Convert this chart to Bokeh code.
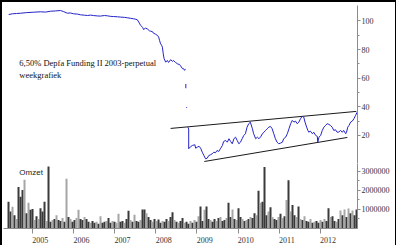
import math
from bokeh.plotting import figure
from bokeh.layouts import column
from bokeh.models import (ColumnDataSource, LinearAxis, FixedTicker, Range1d, Label,
                          Arrow, PrintfTickFormatter, CustomJSTickFormatter)
from bokeh.embed import file_html
from bokeh.resources import INLINE

# ---------------- data ----------------
title_line1 = "6,50% Depfa Funding II 2003-perpetual"
title_line2 = "weekgrafiek"
volume_label = "Omzet"

years = [2005, 2006, 2007, 2008, 2009, 2010, 2011, 2012]

price_ticks = [20, 40, 60, 80, 100]
volume_ticks = [1000000, 2000000, 3000000]

# price, segment before the break (2004-2008)
seg_a_t = [2004.42, 2004.51, 2004.61, 2004.71, 2004.85, 2005.02, 2005.19, 2005.32, 2005.44,
           2005.56, 2005.68, 2005.75, 2005.85, 2005.92, 2006.00, 2006.09, 2006.17, 2006.27,
           2006.34, 2006.41, 2006.48, 2006.58, 2006.65, 2006.75, 2006.82, 2006.90, 2006.97,
           2007.07, 2007.14, 2007.24, 2007.31, 2007.38, 2007.46, 2007.51, 2007.55, 2007.60,
           2007.63, 2007.68, 2007.70, 2007.75, 2007.80, 2007.85, 2007.87, 2007.92, 2007.94,
           2007.99, 2008.04, 2008.07, 2008.09, 2008.11, 2008.14, 2008.16, 2008.18, 2008.20,
           2008.24, 2008.28, 2008.31, 2008.36, 2008.41, 2008.43, 2008.48, 2008.53, 2008.58,
           2008.60, 2008.65, 2008.67, 2008.70, 2008.72]
seg_a_v = [104.5, 105.0, 105.2, 105.4, 105.8, 106.1, 106.4, 106.2, 106.8,
           107.0, 107.3, 106.6, 105.4, 105.6, 105.0, 104.8, 104.3, 104.0,
           103.8, 104.1, 103.8, 103.5, 103.4, 103.8, 103.6, 103.2, 103.1,
           102.9, 102.7, 102.5, 102.2, 101.9, 101.5, 101.2, 100.8, 98.5,
           96.9, 95.5, 94.0, 95.0, 94.3, 93.0, 92.9, 92.5, 91.5,
           90.8, 89.9, 88.7, 86.5, 84.5, 83.0, 81.7, 77.3, 73.8,
           71.2, 72.4, 71.0, 72.9, 71.7, 72.4, 71.0, 70.0, 69.5,
           68.7, 66.6, 66.8, 65.5, 66.5]
seg_b_t = [2008.73, 2008.73]
seg_b_v = [56.0, 53.0]
seg_c_t = [2008.75, 2008.75]
seg_c_v = [39.8, 39.2]
seg_d_t = [2008.78, 2008.80, 2008.80, 2008.84, 2008.89, 2008.95, 2008.97, 2009.01, 2009.05,
           2009.09, 2009.13, 2009.17, 2009.21, 2009.25, 2009.29, 2009.33, 2009.37, 2009.41,
           2009.45, 2009.49, 2009.53, 2009.57, 2009.62, 2009.65, 2009.70, 2009.74, 2009.78,
           2009.82, 2009.86, 2009.90, 2009.94, 2009.98, 2010.02, 2010.06, 2010.10, 2010.14,
           2010.18, 2010.22, 2010.26, 2010.30, 2010.35, 2010.38, 2010.43, 2010.47, 2010.51,
           2010.55, 2010.59, 2010.63, 2010.67, 2010.71, 2010.75, 2010.79, 2010.83, 2010.87,
           2010.91, 2010.95, 2010.99, 2011.03, 2011.08, 2011.11, 2011.16, 2011.20, 2011.24,
           2011.28, 2011.32, 2011.36, 2011.40, 2011.44, 2011.48, 2011.52, 2011.56, 2011.60,
           2011.63, 2011.67, 2011.70, 2011.72, 2011.76, 2011.81, 2011.84, 2011.89, 2011.93,
           2011.94, 2011.97, 2012.01, 2012.05, 2012.09, 2012.13, 2012.17, 2012.21, 2012.25,
           2012.29, 2012.33, 2012.37, 2012.41, 2012.45, 2012.49, 2012.54, 2012.57, 2012.62,
           2012.64, 2012.67, 2012.70, 2012.74, 2012.78, 2012.82, 2012.86, 2012.90]
seg_d_v = [25.8, 24.5, 10.7, 12.0, 13.0, 13.5, 11.1, 11.8, 12.5,
           11.1, 8.3, 6.0, 3.7, 4.1, 6.0, 6.5, 7.2, 8.3,
           7.9, 9.5, 8.8, 10.7, 13.0, 15.8, 16.5, 15.3, 17.7,
           15.8, 14.2, 17.7, 18.8, 16.5, 14.2, 15.3, 17.7, 20.0,
           21.2, 25.8, 28.2, 29.3, 24.7, 21.2, 17.7, 18.8, 17.7,
           19.0, 21.0, 22.3, 23.5, 24.7, 25.8, 26.3, 24.7, 21.2,
           17.7, 15.3, 14.2, 14.6, 15.3, 17.7, 18.8, 21.2, 24.7,
           28.2, 30.5, 29.3, 30.0, 28.2, 29.3, 31.7, 33.3, 32.8,
           29.3, 25.8, 23.5, 22.3, 23.0, 21.2, 22.3, 20.0, 19.3,
           15.3, 18.8, 20.0, 23.5, 25.8, 27.0, 28.2, 27.7, 27.0,
           25.8, 23.5, 24.0, 22.3, 22.3, 23.5, 22.3, 23.5, 21.2,
           22.3, 25.8, 27.0, 29.3, 30.0, 31.7, 34.0, 36.3]

trend_upper_t = [2008.36, 2012.88]
trend_upper_v = [24.9, 36.8]
trend_lower_t = [2009.18, 2012.66]
trend_lower_v = [1.8, 18.6]

# volume (thousands), one bar every ~2.5 weeks starting mid 2004
VOL_START = 2004.416
VOL_STEP = 0.04866
volume_k = [1410, 900, 1140, 700, 500, 2190, 1670, 2020, 2570, 800,
            1350, 980, 1020, 450, 640, 500, 1070, 900, 1410, 400,
            3260, 350, 450, 500, 700, 450, 400, 550, 350, 2620,
            600, 500, 350, 450, 550, 980, 500, 450, 600, 500,
            350, 300, 400, 300, 350, 250, 640, 300, 350, 400,
            550, 300, 400, 350, 300, 770, 350, 400, 300, 500,
            930, 450, 350, 720, 400, 350, 450, 1000, 1000, 800,
            600, 450, 350, 500, 400, 470, 300, 400, 350, 500,
            400, 600, 860, 450, 350, 300, 400, 550, 300, 350,
            250, 400, 300, 450, 350, 640, 1160, 400, 980, 1160,
            500, 450, 350, 500, 400, 550, 600, 400, 450, 550,
            1360, 600, 1000, 500, 450, 1070, 600, 500, 400, 450,
            500, 600, 550, 800, 700, 1980, 1360, 1410, 3230, 700,
            900, 1120, 600, 500, 450, 600, 770, 550, 650, 1500,
            2540, 900, 1240, 700, 600, 1160, 500, 450, 640, 400,
            350, 500, 300, 350, 400, 300, 450, 350, 500, 400,
            1070, 600, 650, 400, 350, 500, 950, 700, 1000, 600,
            1050, 800, 950, 700, 1000]
# week direction: l = up week (light bar), d = down week (dark bar)
volume_dir = ("ddldldddld" "lddldldddl" "ddldlddldl" "dlddllddld" "dlddldlddl"
              "ddldllddld" "dldlddlddl" "ddldlddldd" "lddldlddld" "dldldlddld"
              "dlddldlddl" "ddldlddldl" "dlddldlddd" "ldlddldldl" "dlddldldld"
              "dldlddldld" "dlddldldld" "ldldd")

# ---------------- build ----------------
NAN = float("nan")
price_t = seg_a_t + [NAN] + seg_b_t + [NAN] + seg_c_t + [NAN] + seg_d_t
price_v = seg_a_v + [NAN] + seg_b_v + [NAN] + seg_c_v + [NAN] + seg_d_v

vol_x = [VOL_START + i * VOL_STEP for i in range(len(volume_k))]
vol_top = [v * 1000 for v in volume_k]
vol_col = ["#a6a6a6" if volume_dir[i] == "l" else "#3a3a3a" for i in range(len(volume_k))]
vsrc = ColumnDataSource(dict(x=vol_x, top=vol_top, color=vol_col))

SERIF = "Liberation Serif"
AX_COL = "#8c8c8c"
LBL_COL = "#333333"

xr = Range1d(2004.294, 2012.907)

p1 = figure(width=393, height=161, x_range=xr, y_range=Range1d(0.4, 110.8),
            output_backend="svg", toolbar_location=None,
            x_axis_location=None, y_axis_location=None,
            min_border_left=1, min_border_right=38, min_border_top=3, min_border_bottom=0)
p1.outline_line_color = None
p1.grid.visible = False

ay1 = LinearAxis(ticker=FixedTicker(ticks=price_ticks, minor_ticks=[30, 50, 70, 90]))
for ax in (ay1,):
    ax.axis_line_color = AX_COL
    ax.major_tick_line_color = AX_COL
    ax.minor_tick_line_color = AX_COL
    ax.major_tick_out = 3
    ax.major_tick_in = 0
    ax.minor_tick_out = 2
    ax.minor_tick_in = 0
    ax.major_label_standoff = 1
    ax.major_label_text_font = SERIF
    ax.major_label_text_font_size = "8px"
    ax.major_label_text_color = LBL_COL
p1.add_layout(ay1, "right")

p1.line(trend_upper_t, trend_upper_v, line_color="#1a1a1a", line_width=1)
p1.line(trend_lower_t, trend_lower_v, line_color="#1a1a1a", line_width=1)
p1.line(price_t, price_v, line_color="#2323c8", line_width=1)

p1.add_layout(Label(x=2004.68, y=70.3, text=title_line1, text_font=SERIF,
                    text_font_size="8.5px", text_baseline="middle", text_color="#111111"))
p1.add_layout(Label(x=2004.68, y=61.9, text=title_line2, text_font=SERIF,
                    text_font_size="8.5px", text_baseline="middle", text_color="#111111"))

p2 = figure(width=393, height=82, x_range=xr, y_range=Range1d(0, 3420000),
            output_backend="svg", toolbar_location=None,
            x_axis_location=None, y_axis_location=None,
            min_border_left=1, min_border_right=38, min_border_top=0, min_border_bottom=16)
p2.outline_line_color = None
p2.grid.visible = False

p2.vbar(x="x", top="top", width=VOL_STEP, fill_color="color", line_color=None, source=vsrc)

ay2 = LinearAxis(ticker=FixedTicker(ticks=volume_ticks, minor_ticks=[500000, 1500000, 2500000]),
                 formatter=PrintfTickFormatter(format="%d"))
ax_b = LinearAxis(ticker=FixedTicker(ticks=[y + 0.19 for y in years], minor_ticks=years),
                  formatter=CustomJSTickFormatter(code="return String(Math.floor(tick));"))
for ax in (ay2, ax_b):
    ax.axis_line_color = AX_COL
    ax.major_tick_line_color = AX_COL
    ax.minor_tick_line_color = AX_COL
    ax.major_tick_in = 0
    ax.minor_tick_in = 0
    ax.major_label_text_font = SERIF
    ax.major_label_text_font_size = "8px"
    ax.major_label_text_color = LBL_COL
ay2.major_tick_out = 3
ay2.minor_tick_out = 2
ay2.major_label_standoff = 1
ax_b.major_tick_out = 0
ax_b.minor_tick_out = 5
ax_b.major_label_standoff = 3
p2.add_layout(ay2, "right")
p2.add_layout(ax_b, "below")

p2.add_layout(Label(x=2004.68, y=2950000, text=volume_label, text_font="Liberation Sans",
                    text_font_size="8px", text_baseline="middle", text_color="#222222"))
p2.add_layout(Arrow(end=None, x_start=2012.907, y_start=3420000, x_end=2013.66, y_end=3420000,
                    line_color=AX_COL, line_width=1))

layout = column(p1, p2, spacing=0,
                styles={"border-top": "2px solid black", "border-left": "2px solid black",
                        "border-right": "1px solid black"})

open("out.html", "w").write(file_html(layout, INLINE))
